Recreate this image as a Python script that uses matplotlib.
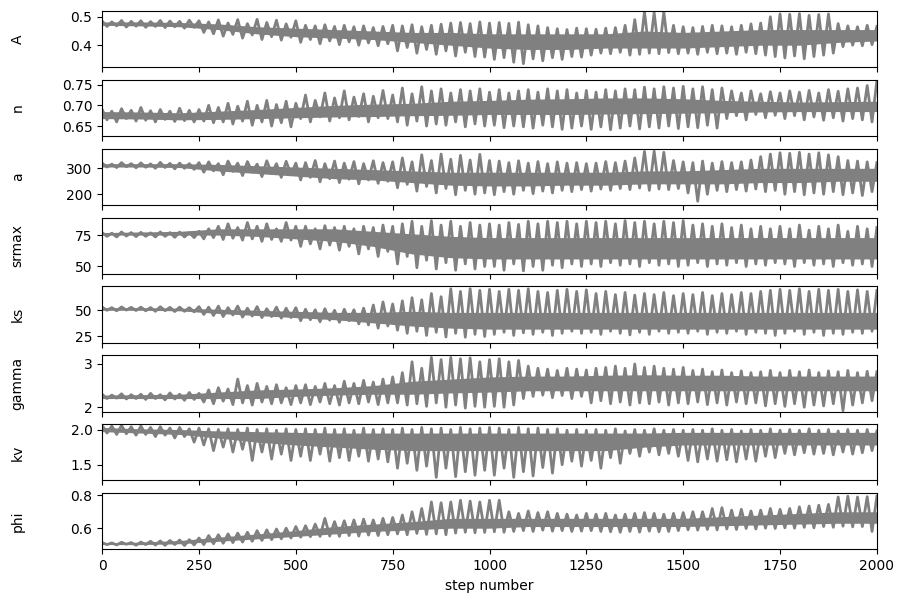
import matplotlib
matplotlib.use("Agg")
import matplotlib.pyplot as plt
import numpy as np

labels = ["A", "n", "a", "srmax", "ks", "gamma", "kv", "phi"]

# trace peaks (steps 0, 25, ..., 2000) and troughs (steps 12.5, 37.5, ..., 1987.5)
A_hi = [0.485, 0.482, 0.487, 0.484, 0.486, 0.483, 0.487, 0.485, 0.484, 0.488, 0.486,
        0.482, 0.489, 0.478, 0.490, 0.476, 0.491, 0.480, 0.488, 0.475, 0.486,
        0.470, 0.468, 0.472, 0.466, 0.470, 0.465, 0.468, 0.462, 0.466, 0.470,
        0.468, 0.472, 0.465, 0.470, 0.474, 0.478, 0.480, 0.476, 0.482, 0.478,
        0.480, 0.477, 0.481, 0.472, 0.468, 0.462, 0.458, 0.455, 0.460, 0.458,
        0.456, 0.460, 0.462, 0.470, 0.490, 0.518, 0.515, 0.517, 0.470, 0.465,
        0.462, 0.466, 0.470, 0.468, 0.465, 0.470, 0.475, 0.478, 0.500, 0.510,
        0.509, 0.511, 0.505, 0.508, 0.510, 0.476, 0.468, 0.465, 0.470, 0.466]
A_lo = [0.466, 0.468, 0.464, 0.467, 0.463, 0.466, 0.462, 0.465, 0.460, 0.463,
        0.445, 0.440, 0.432, 0.438, 0.425, 0.436, 0.420, 0.430, 0.418, 0.428,
        0.410, 0.420, 0.405, 0.415, 0.402, 0.412, 0.400, 0.408, 0.398, 0.405,
        0.380, 0.392, 0.372, 0.385, 0.368, 0.380, 0.362, 0.375, 0.360, 0.358,
        0.350, 0.356, 0.340, 0.335, 0.352, 0.345, 0.356, 0.350, 0.360, 0.358,
        0.365, 0.372, 0.370, 0.375, 0.365, 0.368, 0.372, 0.370, 0.374, 0.370,
        0.372, 0.368, 0.375, 0.370, 0.372, 0.368, 0.375, 0.370, 0.365, 0.360,
        0.355, 0.362, 0.352, 0.360, 0.365, 0.372, 0.395, 0.400, 0.398, 0.402]

n_hi = [0.690, 0.686, 0.692, 0.688, 0.695, 0.687, 0.690, 0.686, 0.693, 0.688, 0.690,
        0.700, 0.695, 0.705, 0.698, 0.710, 0.700, 0.712, 0.702, 0.710, 0.705,
        0.725, 0.712, 0.730, 0.718, 0.735, 0.720, 0.728, 0.722, 0.736, 0.725,
        0.742, 0.728, 0.745, 0.735, 0.740, 0.730, 0.738, 0.735, 0.740, 0.732,
        0.738, 0.730, 0.735, 0.738, 0.732, 0.740, 0.735, 0.738, 0.730, 0.736,
        0.732, 0.738, 0.735, 0.740, 0.738, 0.744, 0.740, 0.745, 0.742, 0.746,
        0.740, 0.745, 0.738, 0.742, 0.735, 0.730, 0.735, 0.728, 0.733, 0.730,
        0.735, 0.732, 0.736, 0.730, 0.738, 0.734, 0.740, 0.742, 0.748, 0.760]
n_lo = [0.665, 0.660, 0.668, 0.662, 0.664, 0.660, 0.666, 0.661, 0.663, 0.660,
        0.662, 0.658, 0.660, 0.655, 0.662, 0.652, 0.660, 0.650, 0.658, 0.648,
        0.668, 0.660, 0.672, 0.662, 0.670, 0.665, 0.673, 0.660, 0.670, 0.668,
        0.660, 0.652, 0.662, 0.650, 0.655, 0.652, 0.660, 0.648, 0.655, 0.650,
        0.652, 0.646, 0.650, 0.648, 0.645, 0.652, 0.648, 0.642, 0.645, 0.650,
        0.642, 0.648, 0.641, 0.645, 0.650, 0.643, 0.648, 0.645, 0.650, 0.644,
        0.648, 0.646, 0.652, 0.645, 0.668, 0.675, 0.665, 0.678, 0.670, 0.676,
        0.668, 0.675, 0.665, 0.672, 0.664, 0.670, 0.662, 0.668, 0.665, 0.660]

a_hi = [320, 316, 322, 318, 321, 317, 323, 319, 320, 318, 322,
        325, 318, 328, 320, 326, 316, 329, 318, 327, 320,
        322, 330, 318, 328, 320, 326, 318, 329, 322, 325,
        340, 325, 352, 330, 355, 335, 350, 332, 354, 330,
        328, 322, 329, 320, 326, 318, 325, 320, 322, 318,
        320, 326, 322, 328, 340, 365, 366, 362, 330, 325,
        322, 328, 320, 326, 322, 325, 332, 345, 355, 360,
        358, 362, 355, 360, 352, 345, 330, 328, 325, 322]
a_lo = [305, 303, 306, 302, 304, 300, 303, 298, 300, 296,
        285, 290, 275, 288, 272, 285, 268, 280, 265, 275,
        255, 265, 248, 260, 245, 258, 240, 255, 242, 250,
        225, 238, 212, 230, 205, 222, 198, 215, 200, 205,
        198, 210, 200, 215, 202, 212, 205, 215, 210, 218,
        212, 220, 215, 222, 218, 224, 215, 220, 218, 222,
        205, 173, 200, 215, 210, 218, 212, 220, 210, 215,
        200, 210, 198, 205, 200, 210, 198, 205, 195, 210]

srmax_hi = [77, 76.5, 77.5, 77, 77.2, 76.8, 77.5, 77, 77.4, 77, 78,
            80, 82, 84, 81, 85, 82, 84, 80, 85, 82,
            82, 80, 82.5, 81, 82, 80, 82, 81, 83, 82,
            84, 86, 82, 86.5, 83, 86, 82, 85, 83, 84,
            83, 85, 83.5, 86, 84, 86, 85, 86, 84, 86,
            85, 86, 84, 86.5, 85, 86, 84, 86, 85, 86.5,
            83, 84, 82, 84, 81, 83, 80, 82, 80, 82,
            80, 83, 79, 82, 80, 83, 78, 82, 80, 81]
srmax_lo = [74, 73.5, 74.2, 73.8, 74, 73.5, 74, 73.2, 73.5, 73,
            72, 73, 71.5, 72.5, 71, 72, 70, 71.5, 70, 71,
            66, 68, 64, 67, 63, 66, 60, 64, 58, 62,
            52, 58, 49, 55, 48, 53, 47, 52, 48, 50,
            50, 47, 52, 46.5, 50, 47, 51, 49, 52, 50,
            52, 50, 53, 51, 52, 50, 53, 51, 52, 50,
            51, 53, 50, 52, 51, 53, 50, 52, 51, 53,
            52, 50, 53, 51, 52, 50, 53, 51, 52, 50]

ks_hi = [53, 52.5, 53.2, 52.8, 53, 52.6, 53.4, 52.8, 53, 52.5, 53.5,
         53, 54, 52.5, 54, 52, 53.5, 51.5, 53, 52, 52.5,
         51, 50.5, 51.5, 50, 51, 50.5, 52, 55, 58, 56,
         59, 62, 60, 66, 63, 70.5, 68, 70.6, 69, 70,
         68, 70, 69, 70.5, 68, 67, 69, 70, 68, 69.5,
         66, 68, 65, 67, 64.5, 66, 65, 67, 64, 66,
         65, 67, 64, 66, 65, 67, 66, 68, 69, 70,
         69, 70.5, 68, 70, 69, 70, 68, 69.5, 68, 69]
ks_lo = [50, 49.5, 50.2, 49.8, 49.5, 49, 49.6, 48.8, 49, 48.5,
         46, 45, 44, 45.5, 43.5, 44.5, 43, 44, 42.5, 43,
         40, 41, 39, 40.5, 38.5, 40, 37, 36, 33, 35,
         31, 28, 30, 26, 29, 24.5, 28, 24.3, 27, 25,
         27, 29, 26, 28.5, 27, 29, 26, 28, 30, 28,
         29, 27, 30, 28, 26.5, 29, 27, 30, 28, 29,
         28, 30, 27, 29, 28, 30, 27, 29, 28, 26,
         28, 30, 27, 29, 26, 28, 27, 29, 28, 30]

gamma_hi = [2.30, 2.28, 2.31, 2.29, 2.30, 2.32, 2.29, 2.33, 2.30, 2.34, 2.32,
            2.40, 2.45, 2.42, 2.65, 2.50, 2.55, 2.48, 2.52, 2.45, 2.50,
            2.52, 2.48, 2.55, 2.50, 2.60, 2.55, 2.62, 2.58, 2.65, 2.70,
            2.80, 3.05, 2.90, 3.15, 3.10, 3.15, 3.12, 3.14, 3.05, 3.10,
            3.12, 3.05, 3.08, 2.95, 2.90, 2.88, 2.85, 2.90, 2.88, 2.86,
            2.90, 2.92, 2.95, 2.90, 3.00, 2.92, 2.95, 2.90, 2.88, 2.92,
            2.85, 2.88, 2.82, 2.86, 2.80, 2.84, 2.80, 2.82, 2.85, 2.80,
            2.85, 2.82, 2.86, 2.80, 2.84, 2.82, 2.85, 2.80, 2.83, 2.82]
gamma_lo = [2.20, 2.21, 2.19, 2.20, 2.18, 2.20, 2.17, 2.19, 2.16, 2.18,
            2.12, 2.08, 2.14, 2.06, 2.10, 2.05, 2.12, 2.08, 2.10, 2.06,
            2.10, 2.06, 2.12, 2.08, 2.05, 2.10, 2.08, 2.12, 2.06, 2.10,
            2.10, 2.05, 2.08, 2.02, 2.10, 2.00, 2.05, 1.98, 2.02, 2.00,
            2.02, 2.00, 2.05, 2.20, 2.25, 2.28, 2.22, 2.27, 2.20, 2.25,
            2.10, 2.15, 2.08, 2.12, 2.05, 2.10, 2.08, 2.12, 2.05, 2.10,
            2.08, 2.12, 2.06, 2.10, 2.05, 2.12, 2.08, 2.10, 2.03, 2.08,
            2.02, 2.08, 2.00, 2.05, 2.03, 2.08, 1.92, 2.05, 2.10, 2.15]

kv_hi = [2.06, 2.05, 2.06, 2.04, 2.05, 2.03, 2.04, 2.02, 2.03, 2.01, 2.02,
         2.01, 2.00, 2.01, 2.00, 2.02, 2.00, 2.01, 1.99, 2.01, 2.00,
         2.01, 2.00, 2.02, 2.00, 2.01, 1.99, 2.02, 2.00, 2.01, 2.00,
         2.02, 2.00, 2.03, 2.01, 2.02, 2.00, 2.03, 2.01, 2.02, 2.03,
         2.02, 2.00, 2.03, 2.01, 2.02, 2.00, 2.01, 1.99, 2.00, 1.99,
         2.00, 1.99, 2.01, 1.98, 2.00, 1.99, 2.01, 1.99, 2.00, 1.99,
         2.00, 1.99, 2.01, 1.99, 2.00, 1.98, 2.00, 1.99, 2.01, 1.99,
         2.00, 1.99, 2.01, 1.99, 2.00, 1.98, 2.00, 1.99, 2.00, 1.98]
kv_lo = [1.95, 1.93, 1.94, 1.92, 1.93, 1.90, 1.92, 1.88, 1.90, 1.82,
         1.78, 1.70, 1.75, 1.68, 1.72, 1.56, 1.68, 1.58, 1.65, 1.56,
         1.62, 1.56, 1.65, 1.55, 1.60, 1.56, 1.62, 1.55, 1.58, 1.54,
         1.45, 1.52, 1.42, 1.48, 1.32, 1.45, 1.33, 1.40, 1.35, 1.42,
         1.35, 1.45, 1.32, 1.40, 1.34, 1.46, 1.38, 1.50, 1.55, 1.48,
         1.56, 1.45, 1.60, 1.52, 1.66, 1.62, 1.68, 1.64, 1.66, 1.62,
         1.56, 1.54, 1.58, 1.55, 1.57, 1.54, 1.58, 1.55, 1.62, 1.60,
         1.66, 1.64, 1.67, 1.65, 1.66, 1.64, 1.68, 1.65, 1.67, 1.70]

phi_hi = [0.512, 0.510, 0.514, 0.512, 0.515, 0.520, 0.522, 0.525, 0.528, 0.530, 0.540,
          0.555, 0.560, 0.565, 0.570, 0.575, 0.585, 0.590, 0.595, 0.600, 0.610,
          0.615, 0.625, 0.660, 0.640, 0.645, 0.650, 0.655, 0.650, 0.660, 0.665,
          0.680, 0.700, 0.720, 0.760, 0.755, 0.760, 0.770, 0.765, 0.760, 0.770,
          0.770, 0.700, 0.690, 0.705, 0.695, 0.700, 0.690, 0.685, 0.680, 0.690,
          0.685, 0.690, 0.680, 0.685, 0.690, 0.695, 0.690, 0.685, 0.690, 0.695,
          0.700, 0.700, 0.720, 0.725, 0.710, 0.715, 0.705, 0.710, 0.720, 0.715,
          0.720, 0.730, 0.735, 0.740, 0.745, 0.790, 0.795, 0.790, 0.792, 0.795]
phi_lo = [0.500, 0.498, 0.502, 0.496, 0.500, 0.497, 0.495, 0.500, 0.494, 0.498,
          0.500, 0.505, 0.508, 0.512, 0.515, 0.520, 0.525, 0.530, 0.535, 0.540,
          0.545, 0.548, 0.550, 0.552, 0.550, 0.555, 0.552, 0.558, 0.555, 0.560,
          0.565, 0.560, 0.568, 0.562, 0.565, 0.560, 0.570, 0.575, 0.572, 0.574,
          0.578, 0.575, 0.580, 0.585, 0.580, 0.588, 0.582, 0.585, 0.580, 0.582,
          0.585, 0.580, 0.578, 0.575, 0.580, 0.576, 0.582, 0.578, 0.580, 0.585,
          0.590, 0.588, 0.592, 0.590, 0.595, 0.592, 0.598, 0.595, 0.600, 0.598,
          0.602, 0.600, 0.605, 0.602, 0.610, 0.605, 0.612, 0.608, 0.610, 0.580]

# dense core of each trace (steps 0, 100, ..., 2000): lower / upper edge
A_core_lo = [0.470, 0.468, 0.465, 0.455, 0.440, 0.430, 0.425, 0.420, 0.410, 0.400, 0.390,
             0.385, 0.385, 0.390, 0.390, 0.390, 0.395, 0.400, 0.400, 0.410, 0.415]
A_core_hi = [0.482, 0.482, 0.480, 0.475, 0.465, 0.460, 0.455, 0.450, 0.445, 0.445, 0.440,
             0.440, 0.440, 0.440, 0.450, 0.445, 0.450, 0.455, 0.455, 0.455, 0.455]
n_core_lo = [0.668, 0.667, 0.665, 0.666, 0.668, 0.670, 0.672, 0.673, 0.675, 0.676, 0.678,
             0.678, 0.678, 0.679, 0.680, 0.681, 0.682, 0.684, 0.685, 0.685, 0.685]
n_core_hi = [0.685, 0.684, 0.682, 0.686, 0.690, 0.695, 0.700, 0.703, 0.705, 0.710, 0.712,
             0.715, 0.716, 0.718, 0.718, 0.716, 0.712, 0.710, 0.708, 0.709, 0.710]
a_core_lo = [305, 305, 303, 290, 280, 270, 260, 255, 245, 235, 232,
             232, 235, 235, 240, 240, 240, 245, 245, 250, 250]
a_core_hi = [318, 318, 318, 315, 310, 305, 300, 295, 290, 285, 285,
             285, 285, 285, 290, 290, 295, 300, 300, 300, 300]
srmax_core_lo = [75, 75, 75, 75, 74, 72, 70, 66, 60, 57, 56,
                 56, 56, 56, 56, 56, 56, 56, 56, 56, 56]
srmax_core_hi = [77, 77.5, 78, 80, 80, 80, 80, 78, 76, 74, 73,
                 73, 73, 73, 73, 73, 73, 73, 73, 73, 73]
ks_core_lo = [50, 50, 49.5, 47, 45, 43, 41, 38, 35, 33, 32,
              32, 32, 32, 32, 32, 32, 32, 32, 32, 32]
ks_core_hi = [52.5, 52.5, 52, 51, 50, 49, 48, 48, 49, 48, 48,
              48, 48, 48, 48, 48, 48, 48, 48, 48, 48]
gamma_core_lo = [2.20, 2.20, 2.20, 2.20, 2.20, 2.25, 2.28, 2.30, 2.30, 2.33, 2.35,
                 2.38, 2.38, 2.38, 2.38, 2.38, 2.38, 2.38, 2.38, 2.38, 2.38]
gamma_core_hi = [2.28, 2.29, 2.30, 2.35, 2.40, 2.42, 2.45, 2.50, 2.60, 2.65, 2.70,
                 2.72, 2.72, 2.74, 2.75, 2.74, 2.74, 2.72, 2.72, 2.72, 2.72]
kv_core_lo = [1.97, 1.95, 1.93, 1.88, 1.82, 1.78, 1.75, 1.72, 1.70, 1.70, 1.70,
              1.70, 1.70, 1.70, 1.75, 1.78, 1.78, 1.78, 1.78, 1.78, 1.78]
kv_core_hi = [2.03, 2.01, 2.00, 1.98, 1.97, 1.96, 1.95, 1.95, 1.95, 1.95, 1.95,
              1.95, 1.95, 1.95, 1.95, 1.96, 1.96, 1.96, 1.96, 1.96, 1.96]
phi_core_lo = [0.500, 0.500, 0.505, 0.520, 0.535, 0.550, 0.565, 0.580, 0.590, 0.600, 0.600,
               0.610, 0.610, 0.610, 0.610, 0.610, 0.615, 0.620, 0.625, 0.630, 0.630]
phi_core_hi = [0.510, 0.515, 0.525, 0.545, 0.565, 0.585, 0.610, 0.625, 0.640, 0.660, 0.660,
               0.660, 0.660, 0.660, 0.660, 0.660, 0.670, 0.680, 0.690, 0.700, 0.700]

peaks = [A_hi, n_hi, a_hi, srmax_hi, ks_hi, gamma_hi, kv_hi, phi_hi]
troughs = [A_lo, n_lo, a_lo, srmax_lo, ks_lo, gamma_lo, kv_lo, phi_lo]
core_lo = [A_core_lo, n_core_lo, a_core_lo, srmax_core_lo, ks_core_lo, gamma_core_lo, kv_core_lo, phi_core_lo]
core_hi = [A_core_hi, n_core_hi, a_core_hi, srmax_core_hi, ks_core_hi, gamma_core_hi, kv_core_hi, phi_core_hi]

ylims = [(0.323, 0.521), (0.626, 0.762), (159, 376), (44.2, 89),
         (19.1, 72.8), (1.90, 3.2), (1.276, 2.076), (0.471, 0.814)]
yticks = [[0.4, 0.5], [0.65, 0.70, 0.75], [200, 300], [50, 75],
          [25, 50], [2, 3], [1.5, 2.0], [0.6, 0.8]]

peak_steps = np.arange(0, 2001, 25)
trough_steps = peak_steps[:-1] + 12.5
core_steps = np.arange(0, 2001, 100)

fig, axes = plt.subplots(8, figsize=(9.04, 6.02), dpi=100, sharex=True)
fig.subplots_adjust(left=0.113, right=0.970, top=0.982, bottom=0.0875, hspace=0.225)

for i in range(len(labels)):
    ax = axes[i]
    steps = np.empty(len(peak_steps) + len(trough_steps))
    vals = np.empty_like(steps)
    steps[0::2] = peak_steps
    steps[1::2] = trough_steps
    vals[0::2] = peaks[i]
    vals[1::2] = troughs[i]
    ax.fill_between(core_steps, core_lo[i], core_hi[i], color="#808080", lw=0)
    ax.plot(steps, vals, color="#808080", lw=2.0)
    ax.set_xlim(0, 2000)
    ax.set_ylim(ylims[i])
    ax.set_yticks(yticks[i])
    ax.set_ylabel(labels[i])
    ax.yaxis.set_label_coords(-0.1, 0.5)

axes[-1].set_xlabel("step number")

plt.savefig("out.png", dpi=100)
